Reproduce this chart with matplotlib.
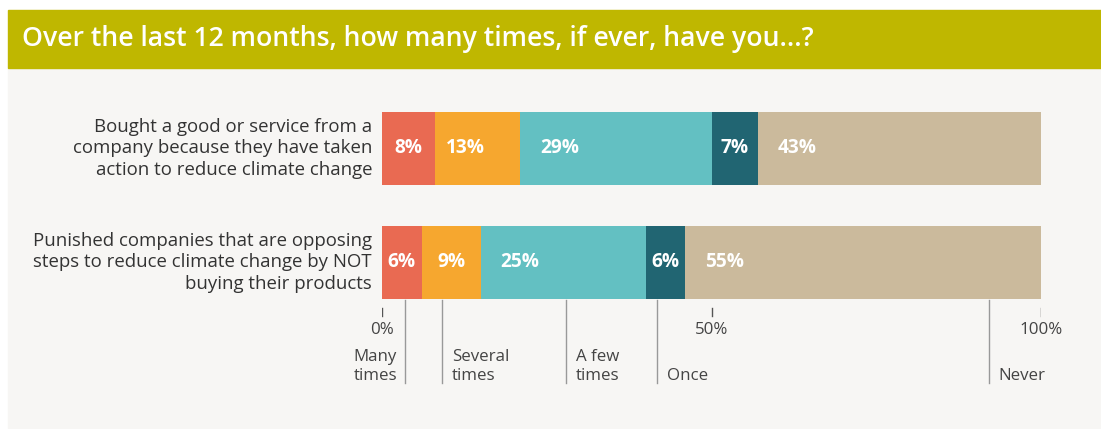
import numpy as np
import matplotlib
matplotlib.use('Agg')
import matplotlib.pyplot as plt
from matplotlib.patches import Rectangle

# data
questions = [
    'Bought a good or service from a\ncompany because they have taken\naction to reduce climate change',
    'Punished companies that are opposing\nsteps to reduce climate change by NOT\nbuying their products',
]
answers = ['Many\ntimes', 'Several\ntimes', 'A few\ntimes', 'Once', 'Never']
shares = [
    [8, 13, 29, 7, 43],
    [6, 9, 25, 6, 55],
]
ticks = [0, 50, 100]
title = 'Over the last 12 months, how many times, if ever, have you...?'

colors = ['#E96A52', '#F6A72F', '#63C0C2', '#216572', '#CBBA9C']
legend_x = [3.5, 9.1, 27.9, 41.7, 92.1]

plt.rcParams['font.family'] = ['Open Sans', 'DejaVu Sans']

W, H = 1101, 429
fig = plt.figure(figsize=(W / 100, H / 100), dpi=100)

def px(x0, y0, x1, y1):
    # pixel box -> figure fraction
    return [x0 / W, 1 - y1 / H, (x1 - x0) / W, (y1 - y0) / H]

# panel backgrounds
b = px(8, 68, W, 428)
fig.add_artist(Rectangle(b[:2], b[2], b[3], transform=fig.transFigure,
                         color='#F7F6F4', zorder=-2))
b = px(8, 10, W, 68)
fig.add_artist(Rectangle(b[:2], b[2], b[3], transform=fig.transFigure,
                         color='#BFB700', zorder=-1))
fig.text(22 / W, 1 - 39 / H, title, color='white', fontsize=19.2,
         fontweight='semibold', va='center', ha='left')

ax = fig.add_axes(px(382, 100, 1041, 400))
ax.set_xlim(0, 100)
ax.set_ylim(2.206, -0.425)
ax.axis('off')

for i, row in enumerate(shares):
    widths = np.array(row, dtype=float)
    lefts = np.concatenate([[0], np.cumsum(widths)[:-1]])
    # rounded shares can sum to 101, the bar is clipped at 100%
    ax.barh(i, widths, left=lefts, height=0.64, color=colors, linewidth=0)
    for v, l, w in zip(row, lefts, widths):
        if w < 10:
            ax.text(l + w / 2, i, f'{v}%', color='white', fontsize=13.8,
                    fontweight='bold', ha='center', va='center')
        else:
            ax.text(l + min(3, w * 0.13), i, f'{v}%', color='white',
                    fontsize=13.8, fontweight='bold', ha='left', va='center')
    ax.text(-1.5, i, questions[i], ha='right', va='center', fontsize=13.4,
            color='#333333', linespacing=1.25)

# axis ticks
for t in ticks:
    ax.plot([t, t], [1.40, 1.47], color='#555555', lw=1)
    ax.text(t, 1.59, f'{t}%', ha='center', va='center', fontsize=12.2,
            color='#444444')

# legend lines under the bars
for k, (name, x) in enumerate(zip(answers, legend_x)):
    ax.plot([x, x], [1.33, 2.06], color='#999999', lw=1)
    if k == 0:
        ax.text(x - 1.2, 2.07, name, ha='right', va='bottom', fontsize=12.2,
                color='#444444', linespacing=1.25)
    else:
        ax.text(x + 1.5, 2.07, name, ha='left', va='bottom', fontsize=12.2,
                color='#444444', linespacing=1.25)

fig.savefig('out.png', dpi=100, facecolor='white')
